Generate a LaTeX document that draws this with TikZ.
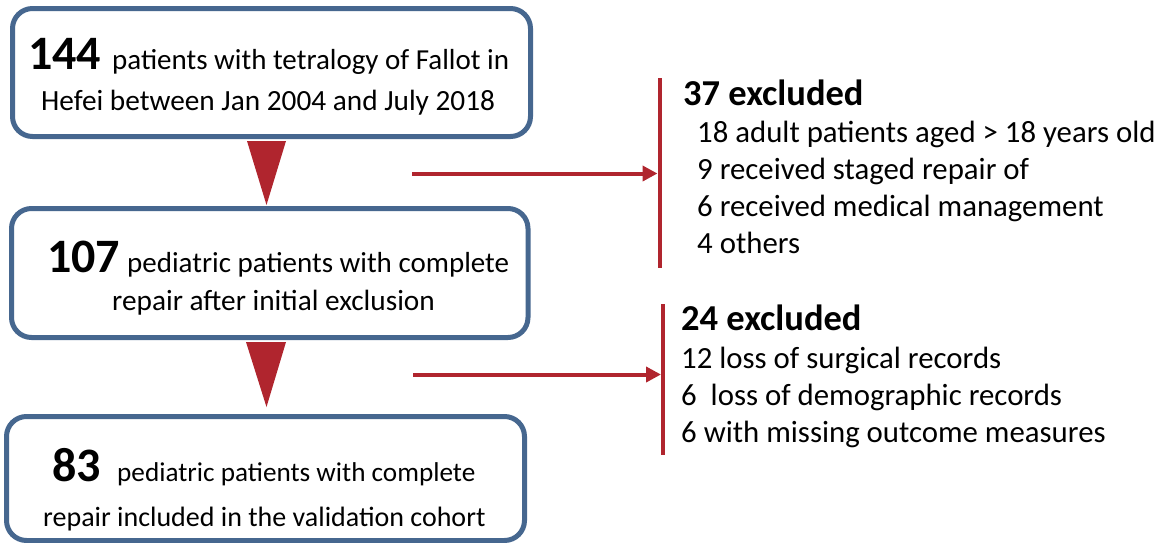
\documentclass[tikz,border=0pt]{standalone}
\usepackage{fontspec}
\setmainfont{Carlito}
\usetikzlibrary{arrows.meta,calc}
\definecolor{boxblue}{HTML}{46678F}
\definecolor{arrred}{HTML}{B0252E}
\newcommand\bignum{\fontsize{48}{58}\selectfont\bfseries}
\newcommand\boxtxt{\fontsize{29}{35}\selectfont}
\newcommand\boxtxtl{\fontsize{29.3}{35}\selectfont}
\newcommand\boxtxtb{\fontsize{28}{34}\selectfont}
\newcommand\boxtxtc{\fontsize{27.2}{33}\selectfont}
\newcommand\exhead{\fontsize{36.5}{42}\selectfont\bfseries}
\newcommand\extxt{\fontsize{30.8}{37}\selectfont}
\begin{document}
\begin{tikzpicture}[x=1pt,y=-1pt,
  fbox/.style={draw=boxblue, line width=5pt, rounded corners=20pt, fill=white, inner sep=0pt},
  txt/.style={anchor=base west, inner sep=0pt},
  tri/.style={fill=arrred},
  bar/.style={draw=arrred, line width=4pt},
  arr/.style={draw=arrred, line width=4pt, -{Triangle[length=15pt,width=15pt]}}]
\useasboundingbox (0,0) rectangle (1163,542);
% boxes
\node[fbox, minimum width=518pt, minimum height=128pt] (b1) at (271.5,72.5) {};
\node[fbox, minimum width=516.5pt, minimum height=129pt] (b2) at (269.75,273) {};
\node[fbox, minimum width=518pt, minimum height=124pt] (b3) at (265.5,478.5) {};
% triangles
\fill[tri] ($(b1.south)+(-24.5,2)$) -- ($(b1.south)+(14.5,2)$) -- ($(b2.north)+(-3.25,-1)$) -- cycle;
\fill[tri] ($(b2.south)+(-23.75,2)$) -- ($(b2.south)+(16.25,2)$) -- ($(b3.north)+(1,-7)$) -- cycle;
% box texts
\node[txt] (n1) at (28,69) {\bignum 144};
\node[txt] (t1a) at (112,69) {\boxtxt patients with tetralogy of Fallot in};
\node[txt] (t1b) at (41,110) {\boxtxtl Hefei between Jan 2004 and July 2018};
\node[txt] (n2) at (47,272) {\bignum 107};
\node[txt] (t2a) at (127,272) {\boxtxt pediatric patients with complete};
\node[txt] (t2b) at (112,310) {\boxtxtl repair after initial exclusion};
\node[txt] (n3) at (52,481) {\bignum 83};
\node[txt] (t3a) at (117,481) {\boxtxtc pediatric patients with complete};
\node[txt] (t3b) at (43,526) {\boxtxtb repair included in the validation cohort};
% bars
\coordinate (bar1t) at (659.5,78);
\coordinate (bar1b) at (659.5,268);
\coordinate (bar2t) at (663,304);
\coordinate (bar2b) at (663,455);
\draw[bar] (bar1t) -- (bar1b);
\draw[bar] (bar2t) -- (bar2b);
% arrows
\coordinate (a1) at (412,173.5);
\coordinate (a2) at (413,374.5);
\draw[arr] (a1) -- ($(a1 -| bar1t)+(-2,0)$);
\draw[arr] (a2) -- ($(a2 -| bar2t)+(-2,0)$);
% exclusion texts
\node[txt] (h1) at (683,105) {\exhead 37 excluded};
\node[txt] (e1a) at (697,142) {\extxt 18 adult patients aged > 18 years old};
\node[txt] (e1b) at (697,179) {\extxt 9 received staged repair of};
\node[txt] (e1c) at (697,216) {\extxt 6 received medical management};
\node[txt] (e1d) at (697,253) {\extxt 4 others};
\node[txt] (h2) at (681,330) {\exhead 24 excluded};
\node[txt] (e2a) at (681,368) {\extxt 12 loss of surgical records};
\node[txt] (e2b) at (681,405) {\extxt 6\ \ loss of demographic records};
\node[txt] (e2c) at (681,442) {\extxt 6 with missing outcome measures};
\end{tikzpicture}
\end{document}
